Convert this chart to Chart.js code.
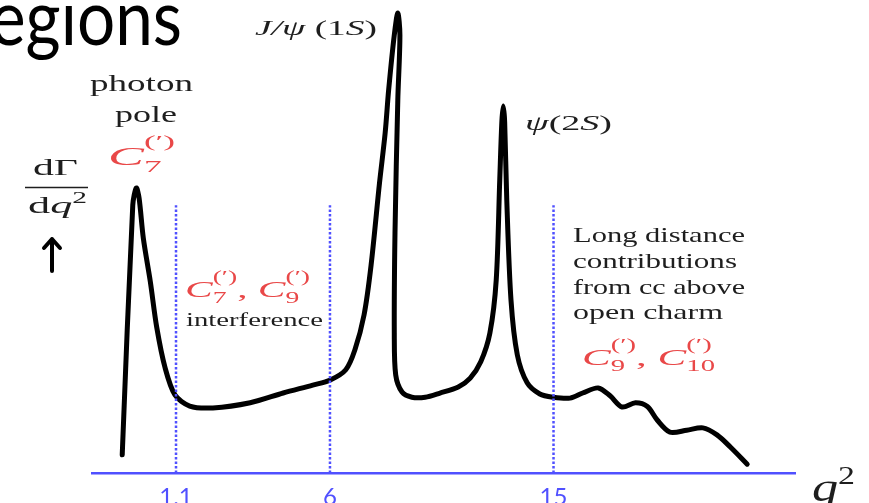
<!DOCTYPE html>
<html>
<head>
<meta charset="utf-8">
<script src="https://cdn.jsdelivr.net/npm/chart.js@4.4.1/dist/chart.umd.min.js"></script>
<style>
  html, body { margin: 0; padding: 0; background: #fff; }
  #wrap { position: relative; width: 869px; height: 503px; }
</style>
</head>
<body>
<div id="wrap"><canvas id="q2-chart"></canvas></div>
<script>
// Schematic dΓ/dq² spectrum: position along the q² axis (0–100) and height (0–100)
const qPos = [
  4.3, 5.8, 6.3, 6.7, 7.3, 8.3, 9.2, 10.4, 11.8, 13.9, 17.2, 22.5, 27.2, 31.4, 33.9,
  36.1, 37.4, 38.7, 39.7, 40.9, 41.7, 42.2, 43.0, 43.5, 43.8, 43.5, 43.1, 43.0, 43.2,
  44.1, 45.5, 47.4, 49.5, 52.1, 53.8, 55.3, 56.6, 57.5, 58.0, 58.3, 58.5, 58.7, 59.0,
  59.6, 60.5, 61.9, 63.7, 65.6, 68.0, 69.8, 72.0, 73.7, 75.4, 77.3, 79.0, 80.4, 82.2,
  84.6, 86.9, 88.9, 90.8, 93.2
];
const rate = [
  3.9, 57.6, 61.3, 59.1, 50.5, 41.1, 31.4, 22.6, 16.8, 14.4, 14.0, 15.1, 17.2, 18.9, 20.0,
  22.2, 26.5, 34.0, 44.7, 62.4, 73.1, 82.4, 94.2, 98.9, 94.2, 80.2, 51.6, 30.1, 21.1,
  17.4, 16.3, 16.3, 17.2, 18.5, 20.4, 23.9, 30.1, 41.5, 63.0, 75.5, 78.9, 75.5, 58.7,
  37.2, 25.4, 19.4, 17.0, 16.3, 16.1, 17.2, 18.3, 16.6, 14.2, 15.1, 14.3, 11.4, 8.8,
  9.2, 9.7, 8.2, 5.6, 1.9
];

// q² region boundaries (dotted lines) and their labels
const cutPos = [11.95, 33.85, 65.65];
const cutLabels = ["1.1", "6", "15"];
const cutTop = 57.6;

const blue = "#5050ff";
const red = "#e94848";
const ink = "#1e1e1e";
const serif = '"Liberation Serif", "DejaVu Serif", serif';

function font(size, style) {
	return (style ? style + " " : "") + size + "px " + serif;
}

// ── Text notes: runs laid out left→right, `stack` puts a run over the previous one
function sub(t, size, dy) { return { t, f: font(size), dy }; }
function sup(t, size, dy) { return { t, f: font(size), dy, stack: true }; }

const notes = [
	{ x: -10, y: 45, w: 192, color: "#000", runs: [{ t: "egions", f: "78px Lato" }] },
	{ x: 255, y: 35, w: 122, color: ink, runs: [
		{ t: "J/ψ", f: font(21, "italic") }, { t: " (1", f: font(21) },
		{ t: "S", f: font(21, "italic") }, { t: ")", f: font(21) } ] },
	{ x: 90, y: 91, w: 103, color: ink, runs: [{ t: "photon", f: font(23) }] },
	{ x: 115, y: 122, w: 62, color: ink, runs: [{ t: "pole", f: font(23) }] },
	{ x: 108, y: 165, w: 67, color: red, runs: [
		{ t: "C", f: font(26, "italic") }, sub("7", 17, 7), sup("(′)", 17, -18) ] },
	{ x: 33, y: 175, w: 45, color: ink, runs: [{ t: "dΓ", f: font(24) }] },
	{ x: 28, y: 213, w: 59, color: ink, runs: [
		{ t: "d", f: font(24) }, { t: "q", f: font(24, "italic") }, { t: "2", f: font(16), dy: -10 } ] },
	{ x: 185, y: 297, w: 125, color: red, runs: [
		{ t: "C", f: font(24, "italic") }, sub("7", 16, 6), sup("(′)", 16, -15),
		{ t: ", ", f: font(24) },
		{ t: "C", f: font(24, "italic") }, sub("9", 16, 6), sup("(′)", 16, -15) ] },
	{ x: 186, y: 326, w: 137, color: ink, runs: [{ t: "interference", f: font(19) }] },
	{ x: 525, y: 130, w: 87, color: ink, runs: [
		{ t: "ψ", f: font(21, "italic") }, { t: "(2", f: font(21) },
		{ t: "S", f: font(21, "italic") }, { t: ")", f: font(21) } ] },
	{ x: 573, y: 242, w: 172, color: ink, runs: [{ t: "Long distance", f: font(21) }] },
	{ x: 573, y: 268, w: 164, color: ink, runs: [{ t: "contributions", f: font(21) }] },
	{ x: 573, y: 294, w: 172, color: ink, runs: [{ t: "from cc above", f: font(21) }] },
	{ x: 573, y: 319, w: 150, color: ink, runs: [{ t: "open charm", f: font(21) }] },
	{ x: 582, y: 365, w: 133, color: red, runs: [
		{ t: "C", f: font(24, "italic") }, sub("9", 16, 6), sup("(′)", 16, -15),
		{ t: ", ", f: font(24) },
		{ t: "C", f: font(24, "italic") }, sub("10", 16, 6), sup("(′)", 16, -15) ] },
	{ x: 812, y: 501, w: 43, color: ink, runs: [
		{ t: "q", f: font(40, "italic") }, { t: "2", f: font(26), dy: -17 } ] },
];

function drawNote(ctx, n) {
	let end = 0, lastStart = 0;
	const items = n.runs.map(r => {
		ctx.font = r.f;
		const w = ctx.measureText(r.t).width;
		const start = r.stack ? lastStart : end;
		lastStart = start;
		end = Math.max(end, start + w);
		return { r, x: start };
	});
	ctx.save();
	ctx.translate(n.x, n.y);
	ctx.scale(n.w / end, 1);
	ctx.fillStyle = n.color;
	ctx.textBaseline = "alphabetic";
	items.forEach(it => {
		ctx.font = it.r.f;
		ctx.fillText(it.r.t, it.x, it.r.dy || 0);
	});
	ctx.restore();
}

const notesPlugin = {
	id: "notes",
	afterDraw(chart) {
		const ctx = chart.ctx;
		notes.forEach(n => drawNote(ctx, n));

		// fraction bar of dΓ/dq² and the arrow below it
		ctx.save();
		ctx.strokeStyle = ink;
		ctx.lineWidth = 1.5;
		ctx.beginPath();
		ctx.moveTo(25, 187.5);
		ctx.lineTo(88, 187.5);
		ctx.stroke();
		ctx.strokeStyle = "#000";
		ctx.lineWidth = 4;
		ctx.lineCap = "round";
		ctx.lineJoin = "round";
		ctx.beginPath();
		ctx.moveTo(52, 271);
		ctx.lineTo(52, 239);
		ctx.moveTo(44, 248);
		ctx.lineTo(52, 239);
		ctx.lineTo(60, 248);
		ctx.stroke();
		ctx.restore();
	},
};

const cutSets = cutPos.map(x => ({
	data: [{ x, y: 0 }, { x, y: cutTop }],
	borderColor: blue,
	borderWidth: 2.5,
	borderDash: [2.5, 2],
	pointRadius: 0,
	order: 1,
}));

new Chart(document.getElementById("q2-chart"), {
	type: "line",
	data: {
		datasets: [
			{
				data: qPos.map((x, i) => ({ x, y: rate[i] })),
				borderColor: "#000",
				borderWidth: 5,
				borderJoinStyle: "round",
				borderCapStyle: "round",
				pointRadius: 0,
				tension: 0.3,
				clip: false,
				order: 2,
			},
			...cutSets,
		],
	},
	options: {
		responsive: true,
		maintainAspectRatio: false,
		animation: false,
		layout: { padding: { left: 92, right: 74, top: 8, bottom: 0 } },
		plugins: { legend: { display: false }, tooltip: { enabled: false } },
		scales: {
			x: {
				type: "linear",
				min: 0,
				max: 100,
				grid: { display: false, drawTicks: false },
				border: { color: blue, width: 2.5 },
				afterBuildTicks: scale => { scale.ticks = cutPos.map(v => ({ value: v })); },
				// labels hang below the bottom edge, as on the slide
				afterFit: scale => { scale.height = 30; },
				ticks: {
					autoSkip: false,
					maxRotation: 0,
					padding: 12,
					color: blue,
					font: { family: "Lato", size: 24, lineHeight: 1 },
					callback: (v, i) => cutLabels[i],
				},
			},
			y: { type: "linear", min: 0, max: 100, display: false },
		},
	},
	plugins: [notesPlugin],
});
</script>
</body>
</html>
